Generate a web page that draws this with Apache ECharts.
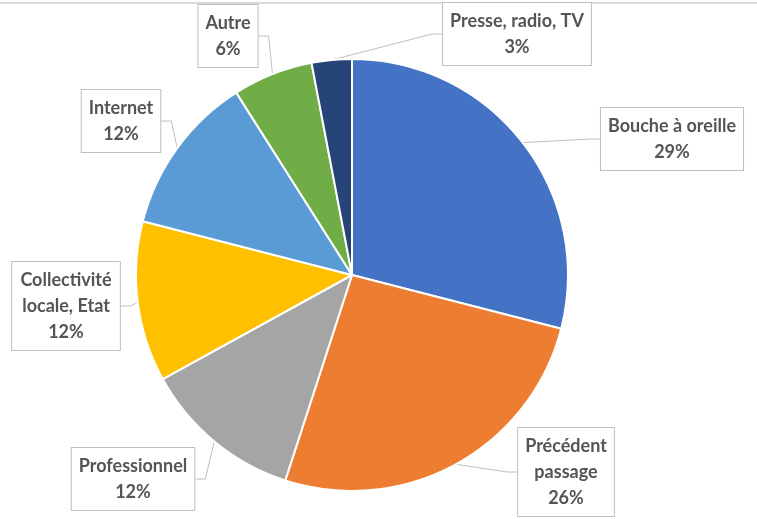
<!DOCTYPE html>
<html>
<head>
<meta charset="utf-8">
<script src="https://cdn.jsdelivr.net/npm/echarts@6/dist/echarts.min.js"></script>
<style>
  html, body { margin: 0; padding: 0; background: #fff; }
  #chart { width: 757px; height: 519px; }
</style>
</head>
<body>
<div id="chart"></div>
<script>
// sources, clockwise from 12 o'clock
const categories = [
  "Bouche à oreille",
  "Précédent\npassage",
  "Professionnel",
  "Collectivité\nlocale, Etat",
  "Internet",
  "Autre",
  "Presse, radio, TV"
];
const shares = [29, 26, 12, 12, 12, 6, 3];
const colors = ["#4472C4", "#ED7D31", "#A5A5A5", "#FFC000", "#5B9BD5", "#70AD47", "#264478"];

// where each callout box sits (centre)
const labelSpots = [
  [672, 139], [566, 472], [133, 479], [66, 306], [121, 121], [228, 36], [517, 34]
];

const chart = echarts.init(document.getElementById("chart"));
chart.setOption({
  animation: false,
  graphic: [{
    type: "line",
    shape: { x1: 0, y1: 3, x2: 757, y2: 3 },
    style: { stroke: "#d9d9d9", lineWidth: 2 }
  }],
  series: [{
    type: "pie",
    center: [352, 275],
    radius: 216,
    startAngle: 90,
    clockwise: true,
    percentPrecision: 0,
    itemStyle: { borderColor: "#fff", borderWidth: 2 },
    data: categories.map((name, i) => ({
      name: name,
      value: shares[i],
      itemStyle: { color: colors[i] }
    })),
    label: {
      show: true,
      position: "outside",
      formatter: "{b}\n{c}%",
      fontFamily: "Lato",
      fontWeight: "bold",
      fontSize: 18,
      lineHeight: 26,
      color: "#555555",
      align: "center",
      backgroundColor: "#fff",
      borderColor: "#bfbfbf",
      borderWidth: 1,
      padding: [5, 7]
    },
    labelLine: {
      show: true,
      length: 10,
      length2: 10,
      lineStyle: { color: "#bfbfbf", width: 1 }
    },
    labelLayout: function (params) {
      const p = labelSpots[params.dataIndex];
      return { x: p[0], y: p[1], align: "center", verticalAlign: "middle" };
    }
  }]
});
</script>
</body>
</html>
